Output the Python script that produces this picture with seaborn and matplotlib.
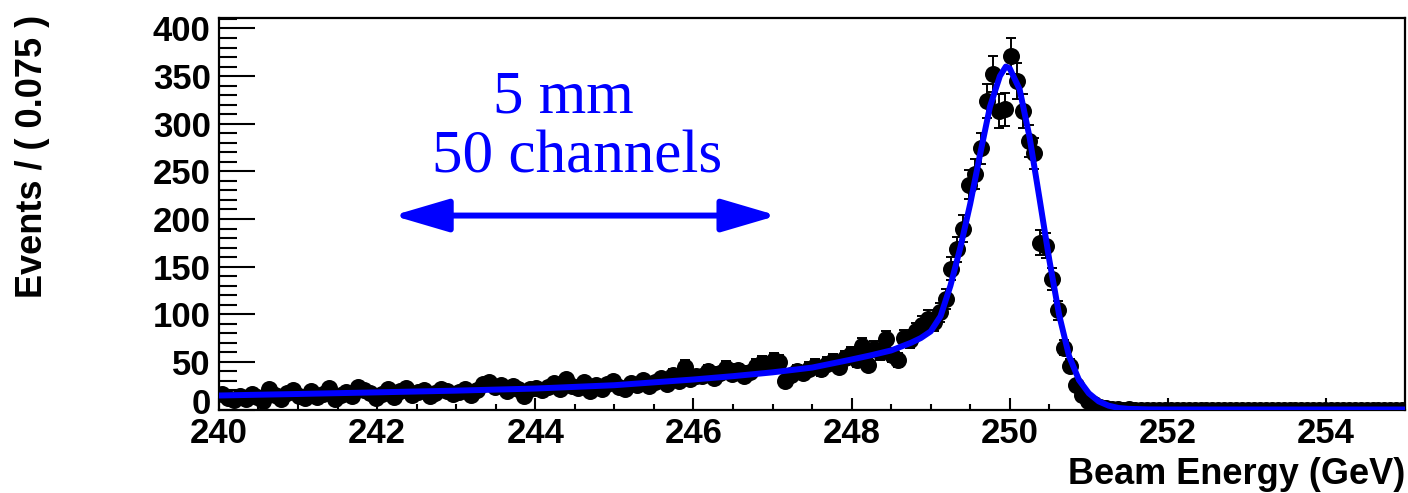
import numpy as np
import pandas as pd
import seaborn as sns
import matplotlib.pyplot as plt
from matplotlib.ticker import MultipleLocator
from matplotlib.transforms import ScaledTranslation

# binned data: 200 bins of 0.075 GeV from 240 to 255
bin_lo = 240.0
bin_width = 0.075
counts = [
    16, 12, 10, 14, 11, 16, 13, 9, 22, 15, 11, 17, 20, 14, 12, 19, 13, 16, 23, 11, 15, 18, 14, 24, 20, 17, 12,
    16, 21, 13, 19, 23, 15, 18, 20, 14, 17, 22, 19, 16, 18, 21, 15, 20, 27, 29, 24, 26, 19, 25, 22, 14, 21, 23,
    20, 24, 28, 21, 32, 25, 23, 29, 19, 26, 22, 27, 30, 24, 21, 28, 26, 31, 25, 29, 33, 27, 36, 30, 45, 32, 35,
    35, 40, 33, 38, 44, 37, 41, 35, 39, 46, 49, 48, 52, 50, 30, 36, 40, 38, 43, 46,
    42, 48, 51, 45, 54, 58, 52, 67, 47, 64, 60, 74, 57, 52, 75, 73, 82, 89, 95, 92,
    102, 116, 148, 168, 190, 236, 247, 274, 324, 352, 313, 315, 371, 345, 313,
    282, 269, 175, 172, 137, 104, 65, 46, 26, 15, 9, 6, 3, 2, 1,
    1, 0, 1, 0, 0, 0, 0, 0, 0, 0, 0, 0, 0, 0, 0, 0, 0, 0, 0, 0, 0, 0, 0, 0, 0,
    0, 0, 0, 0, 0, 0, 0, 0, 0, 0, 0, 0, 0, 0, 0, 0, 0, 0, 0, 0, 0, 0, 0, 0,
]

# fitted curve
fit_x = [240, 241, 242, 243, 244, 245, 246, 246.5, 247, 247.5, 248, 248.25, 248.5, 248.625,
         248.75, 248.875, 249.0, 249.125, 249.25, 249.375, 249.5, 249.625, 249.75, 249.875,
         249.95, 250.0, 250.125, 250.25, 250.375, 250.5, 250.625, 250.75, 250.875, 251.0,
         251.125, 251.25, 251.375, 251.5, 251.75, 252, 253, 254, 255]
fit_y = [14.7, 16.3, 18, 19.8, 22, 25.5, 31.5, 35, 39, 44, 52.5, 57, 62, 66,
         70, 75, 82, 98, 130, 170, 216, 268, 318, 350,
         360, 358, 336, 286, 222, 157, 99, 56, 31, 17,
         8.5, 4, 1.6, 0.7, 0.1, 0, 0, 0, 0]

centers = bin_lo + bin_width * (np.arange(len(counts)) + 0.5)
df = pd.DataFrame({'energy': centers, 'events': counts})
df['err'] = np.sqrt(df['events'])
fit = pd.DataFrame({'energy': fit_x, 'pdf': fit_y})

sns.set_style('ticks')
plt.rcParams['font.family'] = ['Liberation Sans', 'DejaVu Sans']
plt.rcParams['font.weight'] = 'bold'
plt.rcParams['text.color'] = 'black'
plt.rcParams['axes.labelcolor'] = 'black'
plt.rcParams['xtick.color'] = 'black'
plt.rcParams['ytick.color'] = 'black'

fig = plt.figure(figsize=(14.08, 4.93), dpi=100)
ax = fig.add_axes([0.1555, 0.1684, 0.8425, 0.7951])

ax.errorbar(df['energy'], df['events'], yerr=df['err'], fmt='none',
            ecolor='black', elinewidth=1.4, capsize=3.6, capthick=1.4, zorder=2)
sns.scatterplot(data=df, x='energy', y='events', color='black', s=150,
                edgecolor='black', linewidth=0, ax=ax, zorder=3)
sns.lineplot(data=fit, x='energy', y='pdf', color='#0000ff', linewidth=4.3, ax=ax, zorder=4)

ax.set_xlim(240, 255)
ax.set_ylim(-0.5, 411)
ax.xaxis.set_major_locator(MultipleLocator(2))
ax.xaxis.set_minor_locator(MultipleLocator(0.5))
ax.yaxis.set_major_locator(MultipleLocator(50))
ax.yaxis.set_minor_locator(MultipleLocator(10))
ax.tick_params(axis='x', which='major', direction='in', length=8.6, width=1.5,
               labelsize=25, pad=5, top=False)
ax.tick_params(axis='x', which='minor', direction='in', length=4.3, width=1.5, top=False)
ax.tick_params(axis='y', which='major', direction='in', length=26, width=1.5,
               labelsize=25, pad=6, right=False)
ax.tick_params(axis='y', which='minor', direction='in', length=13, width=1.5, right=False)
for s in ax.spines.values():
    s.set_visible(True)
    s.set_linewidth(1.6)
    s.set_color('black')

ax.set_xlabel('Beam Energy (GeV)', fontsize=26, fontweight='bold', loc='right', labelpad=5)
ax.set_ylabel('Events / ( 0.075 )', fontsize=26, fontweight='bold', loc='top')
ax.yaxis.set_label_coords(-0.142, 1.008)

# annotation
ax.text(244.35, 327, '5 mm', color='#0000ff', fontsize=44, family='Liberation Serif',
        fontweight='normal', ha='center', va='center')
ax.text(244.53, 264, '50 channels', color='#0000ff', fontsize=44, family='Liberation Serif',
        fontweight='normal', ha='center', va='center')
ax.annotate('', xy=(242.2, 203.6), xytext=(247.06, 203.6),
            arrowprops=dict(arrowstyle='<|-|>,head_length=3.4,head_width=1.0',
                            mutation_scale=10, color='#0000ff', lw=4.3,
                            shrinkA=0, shrinkB=0))

# lift the "0" label a little off the x axis labels, like the original
fig.canvas.draw()
for t in ax.yaxis.get_major_ticks():
    if t.get_loc() == 0:
        t.label1.set_transform(t.label1.get_transform()
                               + ScaledTranslation(0, 0.09, fig.dpi_scale_trans))

fig.savefig('out.png', dpi=100)
